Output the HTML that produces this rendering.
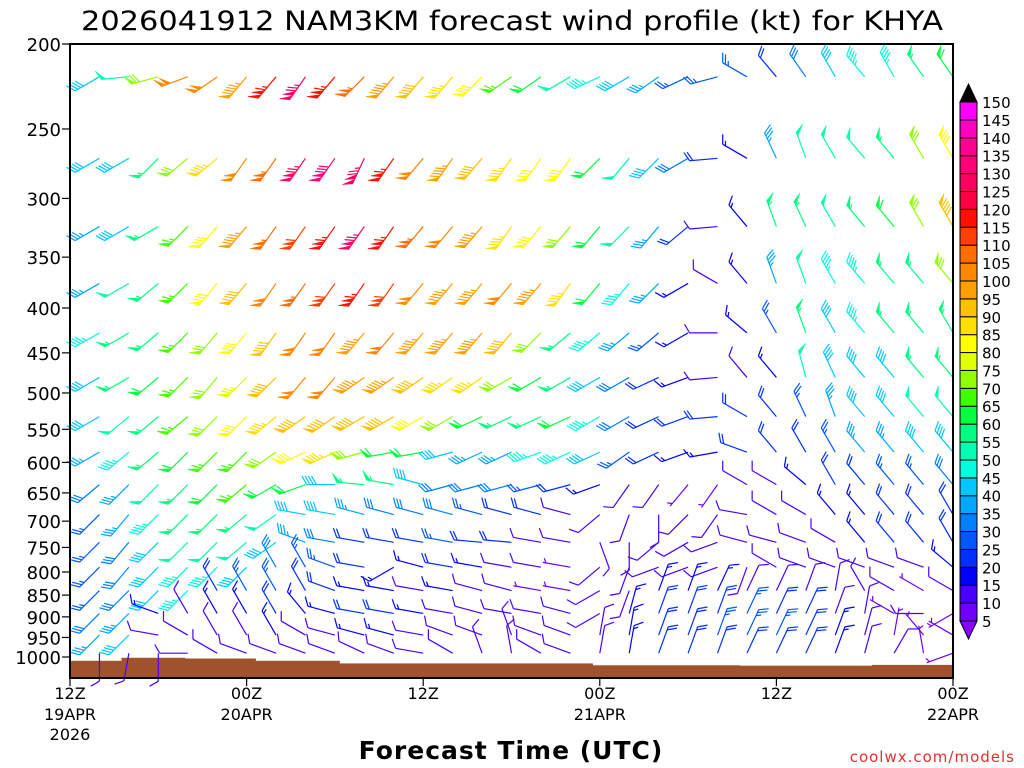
<!DOCTYPE html>
<html><head><meta charset="utf-8"><style>
html,body{margin:0;padding:0;background:#fff;width:1024px;height:768px;overflow:hidden}
svg{display:block;font-family:"DejaVu Sans","Liberation Sans",sans-serif}
</style></head><body>
<svg id="chart" width="1024" height="768" viewBox="0 0 1024 768" xmlns="http://www.w3.org/2000/svg">
<text x="512" y="30" text-anchor="middle" font-size="27" textLength="862" lengthAdjust="spacingAndGlyphs" fill="#000">2026041912 NAM3KM forecast wind profile (kt) for KHYA</text>
<g id="ground"></g>
<g id="barbs"></g>
<g id="yaxis"></g>
<g id="xaxis"></g>
<rect x="70" y="44" width="883" height="634" fill="none" stroke="#000" stroke-width="2"/>
<g id="cbar"></g>
<text x="511" y="759" text-anchor="middle" font-size="25" font-weight="bold" letter-spacing="1" fill="#000">Forecast Time (UTC)</text>
<text x="1015" y="762" text-anchor="end" font-size="15" fill="#e03030" letter-spacing="1">coolwx.com/models</text>
</svg>
<script>
const hours=[2,4,6,8,10,12,14,16,18,20,22,24,26,28,30,32,34,36,38,40,42,44,46,48,50,52,54,56,58,60];
const levels=[218,270,323,375,427,480,532,584,636,688,740,790,840,892,944,990];
const spd0=[40,50,70,100,100,95,115,125,115,105,95,90,85,80,65,60,50,45,40,35,25,25,25,20,30,40,45,45,55,60];
const dir0=[240,265,255,250,235,220,220,215,220,225,220,220,220,225,235,235,240,245,240,235,245,255,300,320,325,330,320,330,325,325];
const spd1=[40,40,55,70,85,100,105,125,130,125,115,100,95,90,85,80,80,60,50,40,30,20,15,35,50,50,50,55,70,80];
const dir1=[240,240,225,230,230,215,215,215,215,205,215,220,215,220,215,215,215,225,220,225,240,265,300,335,340,330,320,320,330,330];
const spd2=[35,40,55,65,80,95,105,110,115,125,115,105,100,95,85,80,70,60,50,35,20,10,15,55,55,50,55,60,70,90];
const dir2=[240,240,240,225,220,220,215,215,215,215,215,220,220,220,215,220,220,220,225,220,230,265,320,340,335,330,320,320,330,330];
const spd3=[35,50,55,65,80,90,100,105,110,115,110,100,95,95,100,95,85,60,45,35,15,10,15,35,50,45,45,55,55,70];
const dir3=[240,240,230,225,220,220,215,215,215,215,215,220,220,220,220,220,215,220,220,225,240,300,320,340,340,330,320,320,320,320];
const spd4=[45,55,55,65,70,80,90,100,100,95,100,95,95,95,90,70,55,45,35,25,15,10,15,25,55,40,45,55,55,55];
const dir4=[240,240,230,225,220,220,215,215,215,220,220,220,220,220,220,225,230,230,230,230,240,270,310,330,340,330,320,320,320,330];
const spd5=[40,55,60,65,70,75,90,100,100,95,95,90,85,85,70,60,55,40,30,20,15,10,10,15,50,40,40,40,55,55];
const dir5=[240,240,230,225,220,225,225,220,220,235,235,235,235,235,240,240,240,240,240,245,250,265,320,320,345,335,320,320,320,320];
const spd6=[40,50,55,65,70,80,85,90,90,90,90,80,70,60,55,55,60,45,30,20,20,20,20,20,25,35,40,40,50,50];
const dir6=[240,230,230,230,225,225,230,235,235,240,240,240,240,245,245,245,245,240,240,245,250,265,300,320,335,340,320,320,320,320];
const spd7=[35,45,55,60,65,65,70,80,85,70,60,60,40,35,35,45,45,40,25,20,15,15,20,20,20,25,35,35,40,40];
const dir7=[240,230,230,225,225,225,235,245,245,255,260,260,255,245,245,250,245,245,235,245,250,260,290,320,330,330,320,320,320,320];
const spd8=[30,35,50,55,60,65,60,60,40,55,55,40,30,30,30,25,20,15,10,10,5,5,10,10,15,20,20,25,25,30];
const dir8=[230,225,225,225,225,230,240,250,270,275,280,285,255,255,255,255,255,250,215,215,220,215,300,300,310,330,320,320,320,320];
const spd9=[25,35,45,55,55,55,50,40,40,35,30,30,30,25,20,20,10,10,10,10,10,10,10,10,10,15,15,20,20,20];
const dir9=[225,220,225,225,225,230,235,280,280,285,285,285,285,285,285,285,285,230,200,180,225,215,280,300,300,320,320,320,320,330];
const spd10=[25,30,40,50,50,50,40,35,30,20,20,20,25,20,20,10,10,10,10,10,10,10,10,10,10,10,15,20,20,20];
const dir10=[225,220,225,225,225,230,235,290,280,280,280,280,280,275,275,280,280,160,180,230,240,250,285,285,290,300,320,320,320,330];
const spd11=[25,30,40,45,45,40,30,25,25,20,15,15,20,15,10,10,5,10,10,10,10,10,10,10,10,10,10,10,10,15];
const dir11=[225,220,225,225,225,225,330,330,290,280,240,285,280,280,280,280,280,230,200,250,250,250,200,300,290,290,290,290,290,310];
const spd12=[25,30,40,45,20,25,25,20,20,15,15,10,15,10,10,5,5,10,10,15,15,15,10,10,10,10,10,10,5,10];
const dir12=[225,225,225,225,330,330,330,330,290,280,280,280,280,285,285,280,280,240,200,20,20,25,25,25,20,10,330,300,300,300];
const spd13=[30,35,15,10,15,15,20,15,15,20,20,15,10,10,10,10,10,10,15,20,20,20,25,20,20,10,10,5,10,5];
const dir13=[225,225,290,330,330,330,330,320,285,280,280,280,280,285,280,280,285,240,15,20,20,20,25,25,25,20,10,300,270,240];
const spd14=[35,40,10,10,10,10,15,10,10,15,15,10,10,10,10,10,10,10,15,20,20,25,25,25,20,15,10,5,5,5];
const dir14=[225,225,280,300,330,330,330,300,285,285,285,280,290,290,340,290,290,10,10,20,20,20,25,25,25,20,15,10,320,300];
const spd15=[10,10,10,10,10,10,10,10,10,10,10,10,10,10,10,10,10,10,15,20,20,20,20,20,20,15,10,10,5,5];
const dir15=[180,190,180,270,300,290,290,290,290,295,290,280,300,340,350,300,290,10,10,20,20,20,25,25,25,20,15,30,350,250];
const speeds=[spd0,spd1,spd2,spd3,spd4,spd5,spd6,spd7,spd8,spd9,spd10,spd11,spd12,spd13,spd14,spd15];
const dirs=[dir0,dir1,dir2,dir3,dir4,dir5,dir6,dir7,dir8,dir9,dir10,dir11,dir12,dir13,dir14,dir15];
const pTicks=[200,250,300,350,400,450,500,550,600,650,700,750,800,850,900,950,1000];
const tTickHours=[0,12,24,36,48,60];
const tTickLabels=["12Z","00Z","12Z","00Z","12Z","00Z"];
const tTickDates=["19APR","20APR","","21APR","","22APR"];
const groundHours=[0,3.5,7.8,12.6,18.3,35.5,45.5,54.5,60];
const groundP=[1010,1002,1004,1010,1017,1022,1023,1021];
const cbLevels=[5,10,15,20,25,30,35,40,45,50,55,60,65,70,75,80,85,90,95,100,105,110,115,120,125,130,135,140,145,150];
const cbColors=["#8a00ff","#7000ff","#4a00ff","#0000ff","#0030ff","#0058ff","#0080ff","#00a8ff","#00c8ff","#00ffe0","#00ffb0","#00ff80","#00ff40","#40ff00","#90ff00","#e0ff00","#ffff00","#ffe000","#ffc000","#ffa000","#ff8800","#ff6e00","#ff4000","#ff1000","#ff0040","#ff0060","#ff0078","#ff0090","#ff00c0","#ff00ff","#000000"];

const NS="http://www.w3.org/2000/svg";
const X0=70,X1=953,Y0=44,SC=877;
function xOf(h){return X0+(X1-X0)*h/60;}
function yOf(p){return Y0+SC*Math.log10(p/200);}
function mk(tag,attrs,parent){const e=document.createElementNS(NS,tag);for(const k in attrs)e.setAttribute(k,attrs[k]);parent.appendChild(e);return e;}
function colorOf(s){let i=Math.floor(s/5);if(i<0)i=0;if(i>30)i=30;return cbColors[i];}

const gG=document.getElementById('ground');
for(let i=0;i<groundP.length;i++){
  const x=xOf(groundHours[i]),x2=xOf(groundHours[i+1]),y=yOf(groundP[i]);
  const r=mk('rect',{x:x,y:y,width:x2-x+0.5,height:678-y,fill:'#a0522d'},gG);
  
  
}

const bG=document.getElementById('barbs');
const L=28,FL=10,SP=3.2;
for(let r=0;r<levels.length;r++){
  for(let c=0;c<hours.length;c++){
    const s=speeds[r][c],d=dirs[r][c];
    const x=xOf(hours[c]),y=yOf(levels[r]);
    const rad=d*Math.PI/180;
    const ux=Math.sin(rad),uy=-Math.cos(rad);
    const th=60*Math.PI/180;
    const fx=ux*Math.cos(th)-uy*Math.sin(th),fy=ux*Math.sin(th)+uy*Math.cos(th);
    const col=colorOf(s);
    const g=mk('g',{stroke:col,fill:col,'stroke-width':1.2},bG);
    
    
    const ex=x+ux*L,ey=y+uy*L;
    mk('line',{x1:x,y1:y,x2:ex,y2:ey},g);
    let rem=Math.round(s/5)*5,pos=0;
    while(rem>=50){
      const ax=ex-ux*pos,ay=ey-uy*pos,bx=ex-ux*(pos+4.5),by=ey-uy*(pos+4.5);
      mk('polygon',{points:`${ax},${ay} ${ax+fx*FL},${ay+fy*FL} ${bx},${by}`,'stroke-width':0.6},g);
      pos+=5.5;rem-=50;
    }
    while(rem>=10){
      const ax=ex-ux*pos,ay=ey-uy*pos;
      mk('line',{x1:ax,y1:ay,x2:ax+fx*FL,y2:ay+fy*FL},g);
      pos+=SP;rem-=10;
    }
    if(rem>=5){
      if(pos===0)pos=SP;
      const ax=ex-ux*pos,ay=ey-uy*pos;
      mk('line',{x1:ax,y1:ay,x2:ax+fx*FL/2,y2:ay+fy*FL/2},g);
    }
  }
}

const yG=document.getElementById('yaxis');
pTicks.forEach(p=>{
  const y=yOf(p);
  const t=mk('line',{x1:62,y1:y,x2:70,y2:y,stroke:'#000','stroke-width':1.2},yG);
  
  
  const tx=mk('text',{x:61,y:y+7,'text-anchor':'end','font-size':18,fill:'#000'},yG);
  
  
  tx.textContent=p;
});
const xG=document.getElementById('xaxis');
tTickHours.forEach((h,i)=>{
  const x=xOf(h);
  const t=mk('line',{x1:x,y1:678,x2:x,y2:686,stroke:'#000','stroke-width':1.2},xG);
  
  
  const a=mk('text',{x:x,y:699,'text-anchor':'middle','font-size':16,fill:'#000'},xG);
  
  
  a.textContent=tTickLabels[i];
  if(tTickDates[i]){
    const b=mk('text',{x:x,y:720,'text-anchor':'middle','font-size':16,fill:'#000'},xG);
    
    
    b.textContent=tTickDates[i];
  }
});
const yr=mk('text',{x:xOf(0),y:740,'text-anchor':'middle','font-size':16,fill:'#000'},xG);


yr.textContent='2026';

const cG=document.getElementById('cbar');
const CX=960,CW=17,CTOP=102,CBOT=621,step=(CBOT-CTOP)/29;
function cy(v){return CBOT-(v-5)/5*step;}
for(let i=0;i<29;i++){
  const y1=cy(cbLevels[i+1]);
  const r=mk('rect',{x:CX,y:y1,width:CW,height:step,fill:cbColors[i+1],stroke:'#000','stroke-width':1},cG);
  
  
}
const tp=mk('polygon',{points:`${CX},${CTOP} ${CX+CW},${CTOP} ${CX+CW/2},${CTOP-18}`,fill:'#000',stroke:'#000'},cG);


const bt=mk('polygon',{points:`${CX},${CBOT} ${CX+CW},${CBOT} ${CX+CW/2},${CBOT+18}`,fill:cbColors[0],stroke:'#000'},cG);


cbLevels.forEach(v=>{
  const t=mk('text',{x:982,y:cy(v)+6,'font-size':15,fill:'#000'},cG);
  
  
  t.textContent=v;
});
</script>
</body></html>
